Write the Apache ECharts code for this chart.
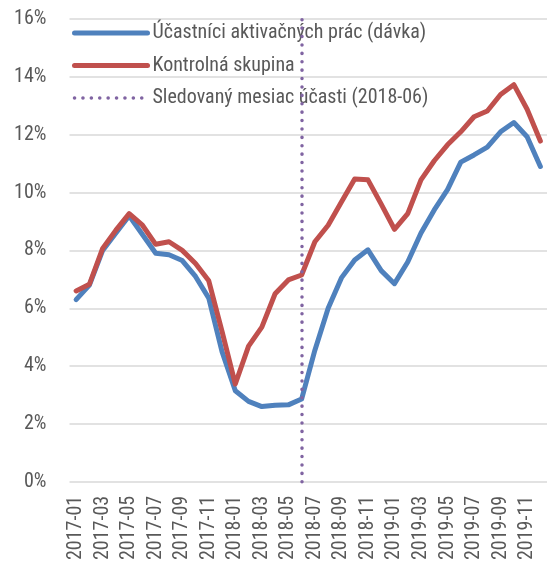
<!DOCTYPE html>
<html>
<head>
<meta charset="utf-8">
<script src="https://cdn.jsdelivr.net/npm/echarts@6/dist/echarts.min.js"></script>
<style>
  html, body { margin: 0; padding: 0; background: #fff; }
  #chart { width: 547px; height: 563px; }
</style>
</head>
<body>
<div id="chart"></div>
<script>
const categories = [
  '2017-01','2017-02','2017-03','2017-04','2017-05','2017-06','2017-07','2017-08','2017-09','2017-10','2017-11','2017-12',
  '2018-01','2018-02','2018-03','2018-04','2018-05','2018-06','2018-07','2018-08','2018-09','2018-10','2018-11','2018-12',
  '2019-01','2019-02','2019-03','2019-04','2019-05','2019-06','2019-07','2019-08','2019-09','2019-10','2019-11','2019-12'
];
const participants = [
  6.3, 6.8, 8.0, 8.6, 9.2, 8.55, 7.9, 7.85, 7.65, 7.1, 6.35, 4.5,
  3.15, 2.78, 2.6, 2.65, 2.66, 2.86, 4.55, 6.0, 7.05, 7.67, 8.02, 7.3,
  6.85, 7.6, 8.6, 9.4, 10.1, 11.05, 11.3, 11.57, 12.1, 12.42, 11.93, 10.9
];
const control = [
  6.6, 6.83, 8.07, 8.7, 9.27, 8.87, 8.21, 8.3, 8.0, 7.55, 6.95, 5.2,
  3.38, 4.69, 5.35, 6.5, 6.98, 7.15, 8.3, 8.87, 9.67, 10.47, 10.44, 9.6,
  8.73, 9.27, 10.44, 11.1, 11.65, 12.1, 12.62, 12.82, 13.39, 13.73, 12.88, 11.78
];
const seriesNames = [
  'Účastníci aktivačných prác (dávka)',
  'Kontrolná skupina',
  'Sledovaný mesiac účasti (2018-06)'
];
const markedMonth = '2018-06';
const yTicks = { min: 0, max: 16, interval: 2 };

const FONT = "'Roboto Condensed', 'Liberation Sans', sans-serif";
const TEXT = '#595959';
const BLUE = '#4F81BD', RED = '#C0504D', PURPLE = '#8064A2';
const DOT = { width: 3.5, color: PURPLE, type: [0.1, 8.3], cap: 'round' };

const chart = echarts.init(document.getElementById('chart'), null, { renderer: 'canvas' });
chart.setOption({
  animation: false,
  backgroundColor: '#ffffff',
  textStyle: { fontFamily: FONT },
  grid: { left: 69.5, top: 19, width: 481, bottom: 78, containLabel: false },
  legend: {
    orient: 'vertical',
    left: 72,
    top: 22,
    padding: 0,
    itemWidth: 73,
    itemHeight: 2,
    itemGap: 10.5,
    itemStyle: { opacity: 0 },
    textStyle: { fontFamily: FONT, fontSize: 20, color: TEXT, lineHeight: 22 },
    data: [
      { name: seriesNames[0], lineStyle: { width: 5, color: BLUE, cap: 'round' } },
      { name: seriesNames[1], lineStyle: { width: 5, color: RED, cap: 'round' } },
      { name: seriesNames[2], lineStyle: DOT }
    ]
  },
  xAxis: {
    type: 'category',
    data: categories,
    boundaryGap: true,
    axisLine: { show: false },
    axisTick: { show: false },
    axisLabel: {
      interval: 1, rotate: 90, fontSize: 20, color: TEXT, fontFamily: FONT, margin: 14
    },
    splitLine: { show: false }
  },
  yAxis: {
    type: 'value',
    min: yTicks.min, max: yTicks.max, interval: yTicks.interval,
    axisLine: { show: false },
    axisTick: { show: false },
    axisLabel: { formatter: '{value}%', fontSize: 20, color: TEXT, fontFamily: FONT, margin: 23 },
    splitLine: { lineStyle: { color: '#D9D9D9', width: 1.5 } }
  },
  series: [
    {
      name: seriesNames[0], type: 'line', data: participants,
      symbol: 'none', color: BLUE,
      lineStyle: { width: 5, color: BLUE, join: 'round', cap: 'round' }
    },
    {
      name: seriesNames[1], type: 'line', data: control,
      symbol: 'none', color: RED,
      lineStyle: { width: 5, color: RED, join: 'round', cap: 'round' }
    },
    {
      name: seriesNames[2], type: 'line', data: [],
      symbol: 'none', color: PURPLE,
      lineStyle: DOT,
      markLine: {
        silent: true, symbol: 'none', label: { show: false },
        lineStyle: DOT,
        data: [{ xAxis: markedMonth }]
      }
    }
  ]
});
</script>
</body>
</html>
